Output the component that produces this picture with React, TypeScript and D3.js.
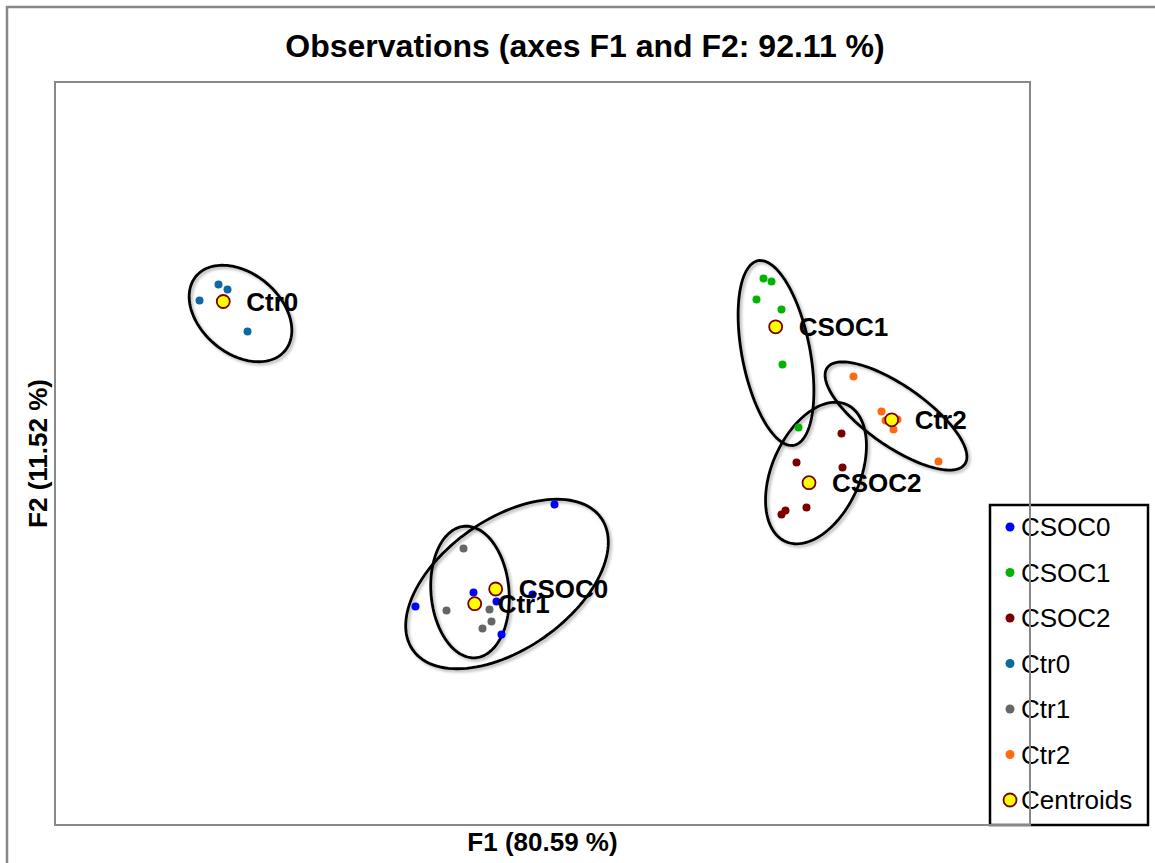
import * as d3 from 'd3';

// F1 / F2 coordinates of the observations, per group
const csoc0 = [[0.12, -0.51], [-1.27, -1.53], [-0.69, -1.39], [-0.46, -1.48], [-0.1, -1.41], [-0.41, -1.81]];
const csoc1 = [[2.21, 1.75], [2.29, 1.72], [2.14, 1.54], [2.39, 1.44], [2.4, 0.89], [2.56, 0.26]];
const csoc2 = [[2.99, 0.2], [2.54, -0.09], [3.0, -0.14], [2.64, -0.54], [2.43, -0.57], [2.39, -0.61]];
const ctr0 = [[-3.43, 1.53], [-3.24, 1.69], [-3.15, 1.64], [-2.95, 1.22]];
const ctr1 = [[-0.79, -0.95], [-0.96, -1.57], [-0.53, -1.56], [-0.51, -1.68], [-0.6, -1.75]];
const ctr2 = [[3.11, 0.77], [3.39, 0.42], [3.43, 0.33], [3.51, 0.24], [3.55, 0.34], [3.96, -0.08]];

const groupNames = ['CSOC0', 'CSOC1', 'CSOC2', 'Ctr0', 'Ctr1', 'Ctr2'];
const groupPoints = [csoc0, csoc1, csoc2, ctr0, ctr1, ctr2];
const groupColors = ['#0000ff', '#00b400', '#7a0000', '#0d6aa0', '#666666', '#ff6a10'];

// confidence ellipses (centre, semi-axes, angle in degrees)
const ellipseF1 = [-0.355, 2.335, 2.735, -3.02, -0.725, 3.535];
const ellipseF2 = [-1.305, 1.005, -0.195, 1.4, -1.385, 0.375];
const ellipseMajor = [1.15, 0.94, 0.75, 0.58, 0.66, 0.84];
const ellipseMinor = [0.65, 0.34, 0.44, 0.4, 0.39, 0.3];
const ellipseAngle = [35, -79, 66, -40, -85, -35];

const title = 'Observations (axes F1 and F2: 92.11 %)';
const xLabel = 'F1 (80.59 %)';
const yLabel = 'F2 (11.52 %)';

const W = 1155;
const H = 863;
const plot = { left: 55, top: 82, right: 1030, bottom: 825 };
const font = "Arial, 'Liberation Sans', sans-serif";

export default function App() {
  const x = d3.scaleLinear().domain([-4.875, 4.875]).range([plot.left, plot.right]);
  const y = d3.scaleLinear().domain([-3.715, 3.715]).range([plot.bottom, plot.top]);

  const ellipsePath = (i: number) => {
    const th = (ellipseAngle[i] * Math.PI) / 180;
    const pts = d3.range(0, 120).map((k) => {
      const t = (k / 120) * Math.PI * 2;
      const u = ellipseMajor[i] * Math.cos(t);
      const v = ellipseMinor[i] * Math.sin(t);
      return [ellipseF1[i] + u * Math.cos(th) - v * Math.sin(th), ellipseF2[i] + u * Math.sin(th) + v * Math.cos(th)];
    });
    return d3
      .line<number[]>()
      .x((d) => x(d[0]))
      .y((d) => y(d[1]))
      .curve(d3.curveLinearClosed)(pts) as string;
  };

  const centroids = groupPoints.map((pts) => [d3.mean(pts, (d) => d[0]) as number, d3.mean(pts, (d) => d[1]) as number]);

  const legendItems = [...groupNames, 'Centroids'];
  const legendY = d3.scalePoint<string>().domain(legendItems).range([527, 800]);

  return (
    <svg width={W} height={H} style={{ position: 'absolute', left: 0, top: 0, background: '#fff' }}>
      <defs>
        <filter id="shadow" x="-20%" y="-20%" width="140%" height="140%">
          <feDropShadow dx="2" dy="2" stdDeviation="1.5" floodColor="#000" floodOpacity="0.3" />
        </filter>
      </defs>
      <rect x={7} y={7} width={W + 20} height={H + 20} fill="#fff" stroke="#888" strokeWidth={2.5} />
      <text x={585} y={57} textAnchor="middle" fontFamily={font} fontWeight="bold" fontSize={32}>
        {title}
      </text>

      {groupNames.map((g, i) => (
        <path key={'e' + g} d={ellipsePath(i)} fill="none" stroke="#000" strokeWidth={2.8} filter="url(#shadow)" />
      ))}

      {groupPoints.map((pts, i) =>
        pts.map((d, j) => <circle key={groupNames[i] + j} cx={x(d[0])} cy={y(d[1])} r={4} fill={groupColors[i]} />)
      )}

      {centroids.map((c, i) => (
        <g key={'c' + i}>
          <circle cx={x(c[0])} cy={y(c[1])} r={6.5} fill="#ffff00" stroke="#7a0000" strokeWidth={1.8} />
          <text x={x(c[0]) + 23} y={y(c[1])} dy="0.36em" fontFamily={font} fontWeight="bold" fontSize={26}>
            {groupNames[i]}
          </text>
        </g>
      ))}

      <g>
        <rect x={990} y={505} width={158} height={320} fill="#fff" stroke="#000" strokeWidth={2.5} />
        {legendItems.map((name, i) => {
          const ly = legendY(name) as number;
          return (
            <g key={'l' + name}>
              {i < groupNames.length ? (
                <circle cx={1010} cy={ly} r={4.5} fill={groupColors[i]} />
              ) : (
                <circle cx={1010} cy={ly} r={6.5} fill="#ffff00" stroke="#7a0000" strokeWidth={1.8} />
              )}
              <text x={1021} y={ly} dy="0.36em" fontFamily={font} fontSize={26}>
                {name}
              </text>
            </g>
          );
        })}
      </g>

      <rect
        x={plot.left}
        y={plot.top}
        width={plot.right - plot.left}
        height={plot.bottom - plot.top}
        fill="none"
        stroke="#888"
        strokeWidth={2}
      />

      <text x={(plot.left + plot.right) / 2} y={851} textAnchor="middle" fontFamily={font} fontWeight="bold" fontSize={26}>
        {xLabel}
      </text>
      <text
        transform={`translate(47,${(plot.top + plot.bottom) / 2}) rotate(-90)`}
        textAnchor="middle"
        fontFamily={font}
        fontWeight="bold"
        fontSize={26}
      >
        {yLabel}
      </text>
    </svg>
  );
}
